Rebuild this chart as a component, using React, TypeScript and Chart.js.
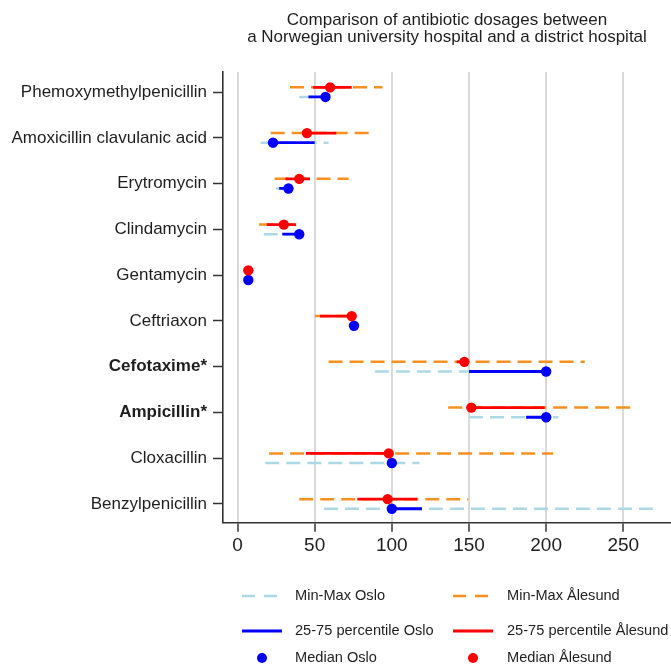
import React, { useEffect, useRef } from 'react';
import { Chart, registerables } from 'chart.js';

Chart.register(...registerables);

const titleLines = [
  'Comparison of antibiotic dosages between',
  'a Norwegian university hospital and a district hospital',
];

const categories = [
  'Phemoxymethylpenicillin',
  'Amoxicillin clavulanic acid',
  'Erytromycin',
  'Clindamycin',
  'Gentamycin',
  'Ceftriaxon',
  'Cefotaxime*',
  'Ampicillin*',
  'Cloxacillin',
  'Benzylpenicillin',
];
const boldCategories = ['Cefotaxime*', 'Ampicillin*'];

const xTicks = [0, 50, 100, 150, 200, 250];

// Oslo (university hospital)
const osloMin = [40, 15, 25, 17, 6, 72, 89, 150, 18, 56];
const osloQ1 = [46, 20, 27, 29, 7, 74, 150, 187, 98, 100];
const osloMedian = [57, 23, 33, 40, 7, 75.5, 200, 200, 100, 100];
const osloQ3 = [57, 50, 33, 40, 7, 75.5, 200, 200, 100, 119.5];
const osloMax = [58, 59, 33, 40, 7, 75.5, 200, 208, 118, 270];

// Ålesund (district hospital)
const aalMin = [34, 21.5, 24, 14, 5, 50.2, 59, 136.5, 20.5, 40];
const aalQ1 = [49, 42, 31, 19, 6, 53.4, 142, 151, 44.3, 77.6];
const aalMedian = [60, 45, 40, 30, 7, 74, 147, 151.5, 98, 97.3];
const aalQ3 = [74, 64, 47, 38, 7, 74, 148, 199, 98, 116.5];
const aalMax = [94, 85, 72, 38, 7, 77, 225, 259, 204.5, 149.5];

const legendLabels = [
  'Min-Max Oslo',
  'Min-Max Ålesund',
  '25-75 percentile Oslo',
  '25-75 percentile Ålesund',
  'Median Oslo',
  'Median Ålesund',
];

const FONT = '"Liberation Sans", Arial, Helvetica, sans-serif';
const C_LIGHTBLUE = '#add8e6';
const C_ORANGE = '#f7901e';
const C_BLUE = '#0000ff';
const C_RED = '#ff0000';
const C_TEXT = '#1e1e1e';
const ROW_OFF = 0.105;

function segs(lo: number[], hi: number[], off: number) {
  const pts: { x: number; y: number }[] = [];
  lo.forEach((v, i) => {
    pts.push({ x: v, y: i + off });
    pts.push({ x: hi[i], y: i + off });
    pts.push({ x: NaN, y: NaN });
  });
  return pts;
}

function dots(vals: number[], off: number) {
  return vals.map((v, i) => ({ x: v, y: i + off }));
}

const overlayPlugin = {
  id: 'overlay',
  afterDraw(chart: any) {
    const ctx = chart.ctx as CanvasRenderingContext2D;
    const area = chart.chartArea;
    ctx.save();
    // title
    ctx.fillStyle = C_TEXT;
    ctx.font = `17px ${FONT}`;
    ctx.textAlign = 'center';
    ctx.textBaseline = 'middle';
    const cx = (area.left + area.right) / 2;
    ctx.fillText(titleLines[0], cx, 20.5);
    ctx.fillText(titleLines[1], cx, 37.5);

    // legend
    const rows = [596, 631, 658];
    const cols = [
      { x0: 242, text: 295, color: [C_LIGHTBLUE, C_BLUE, C_BLUE] },
      { x0: 453, text: 507, color: [C_ORANGE, C_RED, C_RED] },
    ];
    ctx.textAlign = 'left';
    ctx.font = `14.6px ${FONT}`;
    cols.forEach((c, ci) => {
      ctx.strokeStyle = c.color[0];
      ctx.lineWidth = 2.5;
      ctx.setLineDash([13, 9]);
      ctx.beginPath();
      ctx.moveTo(c.x0, rows[0]);
      ctx.lineTo(c.x0 + 35, rows[0]);
      ctx.stroke();
      ctx.setLineDash([]);
      ctx.strokeStyle = c.color[1];
      ctx.lineWidth = 3;
      ctx.beginPath();
      ctx.moveTo(c.x0, rows[1]);
      ctx.lineTo(c.x0 + 40, rows[1]);
      ctx.stroke();
      ctx.fillStyle = c.color[2];
      ctx.beginPath();
      ctx.arc(c.x0 + 20, rows[2], 5, 0, Math.PI * 2);
      ctx.fill();
      ctx.fillStyle = C_TEXT;
      for (let r = 0; r < 3; r++) {
        ctx.fillText(legendLabels[r * 2 + ci], c.text, rows[r]);
      }
    });
    ctx.restore();
  },
};

export default function App() {
  const ref = useRef<HTMLCanvasElement>(null);

  useEffect(() => {
    if (!ref.current) return;
    const lineBase = {
      type: 'line' as const,
      pointRadius: 0,
      pointHoverRadius: 0,
      tension: 0,
      spanGaps: false,
      fill: false,
      borderCapStyle: 'butt' as const,
    };
    const chart = new Chart(ref.current, {
      type: 'line',
      data: {
        datasets: [
          {
            ...lineBase,
            label: legendLabels[0],
            data: segs(osloMin, osloMax, ROW_OFF),
            borderColor: C_LIGHTBLUE,
            borderWidth: 2.5,
            borderDash: [14, 7],
            order: 3,
          },
          {
            ...lineBase,
            label: legendLabels[1],
            data: segs(aalMin, aalMax, -ROW_OFF),
            borderColor: C_ORANGE,
            borderWidth: 2.5,
            borderDash: [14, 7],
            order: 3,
          },
          {
            ...lineBase,
            label: legendLabels[2],
            data: segs(osloQ1, osloQ3, ROW_OFF),
            borderColor: C_BLUE,
            borderWidth: 2.8,
            order: 2,
          },
          {
            ...lineBase,
            label: legendLabels[3],
            data: segs(aalQ1, aalQ3, -ROW_OFF),
            borderColor: C_RED,
            borderWidth: 2.8,
            order: 2,
          },
          {
            type: 'line',
            label: legendLabels[4],
            data: dots(osloMedian, ROW_OFF),
            showLine: false,
            pointRadius: 5.2,
            pointBorderWidth: 0,
            pointBackgroundColor: C_BLUE,
            borderColor: C_BLUE,
            order: 1,
          },
          {
            type: 'line',
            label: legendLabels[5],
            data: dots(aalMedian, -ROW_OFF),
            showLine: false,
            pointRadius: 5.2,
            pointBorderWidth: 0,
            pointBackgroundColor: C_RED,
            borderColor: C_RED,
            order: 0,
          },
        ] as any,
      },
      options: {
        animation: false,
        responsive: true,
        maintainAspectRatio: false,
        events: [],
        layout: {
          autoPadding: false,
          padding: { top: 72, right: 0, bottom: 102.3, left: 0 },
        },
        plugins: {
          legend: { display: false },
          tooltip: { enabled: false },
          title: { display: false },
        },
        scales: {
          x: {
            type: 'linear',
            min: -9.4,
            max: 280.9,
            afterFit: (s: any) => {
              s.height = 40;
              s.paddingLeft = 0;
              s.paddingRight = 0;
            },
            afterBuildTicks: (s: any) => {
              s.ticks = xTicks.map((v) => ({ value: v }));
            },
            grid: {
              color: '#d9d9d9',
              lineWidth: 2,
              tickColor: '#333333',
              tickLength: 9,
              tickWidth: 1.5,
            } as any,
            border: { display: true, color: '#333333', width: 1.6 },
            ticks: {
              color: C_TEXT,
              font: { family: FONT, size: 19 },
              padding: 3,
              maxRotation: 0,
              autoSkip: false,
            },
          },
          y: {
            type: 'linear',
            reverse: true,
            min: -0.44,
            max: 9.41,
            afterFit: (s: any) => {
              s.width = 223;
              s.paddingTop = 0;
              s.paddingBottom = 0;
            },
            afterBuildTicks: (s: any) => {
              s.ticks = categories.map((_, i) => ({ value: i }));
            },
            grid: {
              drawOnChartArea: false,
              drawTicks: true,
              tickLength: 10,
              tickColor: '#333333',
              tickWidth: 1.5,
            } as any,
            border: { display: true, color: '#333333', width: 1.6 },
            ticks: {
              color: C_TEXT,
              padding: 6,
              autoSkip: false,
              callback: (v: any) => categories[Math.round(Number(v))] ?? '',
              font: (ctx: any) => {
                const idx = ctx.tick ? Math.round(ctx.tick.value) : -1;
                const bold = boldCategories.includes(categories[idx]);
                return { family: FONT, size: 17, weight: bold ? 'bold' : 'normal' };
              },
            },
          },
        },
      },
      plugins: [overlayPlugin],
    } as any);
    return () => chart.destroy();
  }, []);

  return (
    <div
      style={{
        position: 'absolute',
        left: 0,
        top: 0,
        width: 671,
        height: 665,
        background: '#ffffff',
      }}
    >
      <canvas ref={ref} />
    </div>
  );
}
